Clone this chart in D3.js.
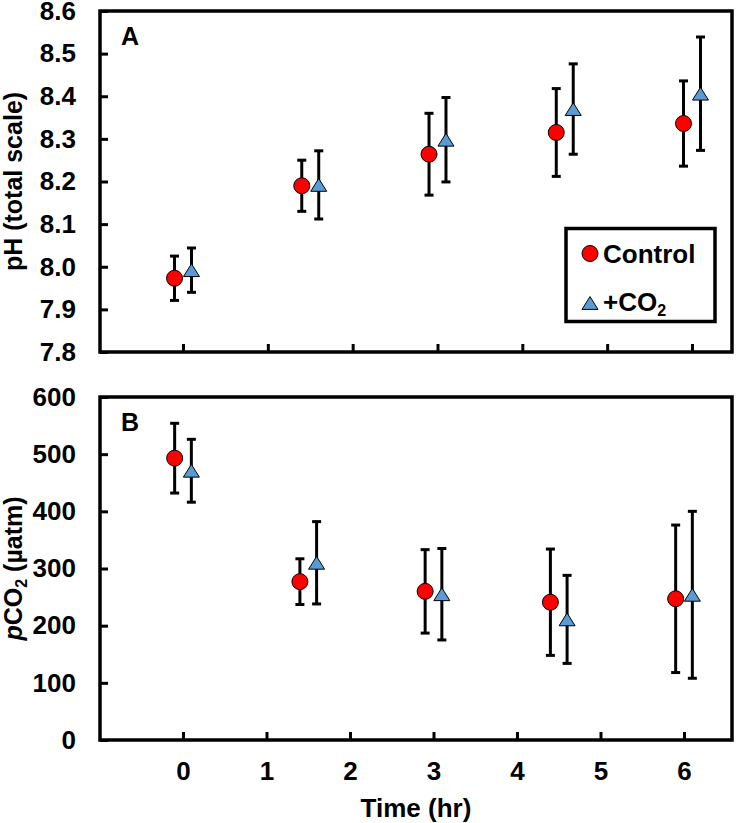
<!DOCTYPE html>
<html>
<head>
<meta charset="utf-8">
<script src="https://cdn.jsdelivr.net/npm/d3@7"></script>
<style>
  html, body { margin: 0; padding: 0; background: #fff; }
  svg { display: block; }
</style>
</head>
<body>
<svg id="chart" width="736" height="823"></svg>
<script>
// ---------------- DATA ----------------
const timesControl = [-0.1, 1.4, 2.9, 4.4, 5.9];
const timesCO2     = [0.1, 1.6, 3.1, 4.6, 6.1];
const xTickValues  = [0, 1, 2, 3, 4, 5, 6];

const phControl    = [7.973, 8.190, 8.264, 8.315, 8.336];
const phControlSD  = [0.052, 0.060, 0.096, 0.103, 0.100];
const phCO2        = [7.992, 8.192, 8.298, 8.370, 8.406];
const phCO2SD      = [0.052, 0.080, 0.099, 0.106, 0.133];

const pco2Control   = [493, 277, 260, 241, 247];
const pco2ControlSD = [61, 40, 73, 93, 129];
const pco2CO2       = [471, 310, 255, 211, 254];
const pco2CO2SD     = [55, 72, 80, 77, 146];

const phTicks   = [7.8, 7.9, 8.0, 8.1, 8.2, 8.3, 8.4, 8.5, 8.6];
const pco2Ticks = [0, 100, 200, 300, 400, 500, 600];

const seriesNames = ["Control", "+CO2"];

// ---------------- STYLE ----------------
const FONT = '"Liberation Sans", Arial, Helvetica, sans-serif';
const RED = "#FF0000";
const BLUE = "#5B9BD5";

const svg = d3.select("#chart")
  .style("font-family", FONT)
  .style("font-weight", "bold");

const triangleType = {
  draw(ctx, size) {
    const s = Math.sqrt(size);
    const h = s * 0.8;
    ctx.moveTo(0, -h / 2);
    ctx.lineTo(s / 2, h / 2);
    ctx.lineTo(-s / 2, h / 2);
    ctx.closePath();
  }
};
const triPath = d3.symbol().type(triangleType).size(256)();

const left = 100, right = 732;

function panel(cfg) {
  const g = svg.append("g");
  const x = d3.scaleLinear().domain([0, 6]).range(cfg.xRange);
  const y = d3.scaleLinear().domain(cfg.yDomain).range([cfg.bottom, cfg.top]);

  const ya = d3.axisLeft(y).tickValues(cfg.yTicks).tickFormat(cfg.yFormat)
    .tickSizeInner(-8).tickSizeOuter(0).tickPadding(24);
  const yg = g.append("g").attr("transform", `translate(${left},0)`).call(ya);
  const xa = d3.axisBottom(x).tickValues(xTickValues)
    .tickFormat(cfg.xLabels ? d3.format("d") : "")
    .tickSizeInner(-8).tickSizeOuter(0).tickPadding(22);
  const xg = g.append("g").attr("transform", `translate(0,${cfg.bottom})`).call(xa);

  [yg, xg].forEach(a => {
    a.attr("font-family", FONT).attr("font-size", 26).attr("font-weight", "bold");
    a.select(".domain").remove();
    a.selectAll(".tick line").attr("stroke", "#000").attr("stroke-width", 3);
    a.selectAll(".tick text").attr("fill", "#000");
  });

  g.append("rect")
    .attr("x", left).attr("y", cfg.top)
    .attr("width", right - left).attr("height", cfg.bottom - cfg.top)
    .attr("fill", "none").attr("stroke", "#000").attr("stroke-width", 3.5);

  g.append("text").attr("x", 121).attr("y", cfg.top + 34)
    .attr("font-size", 25).text(cfg.label);

  const series = [
    { xs: timesControl, ys: cfg.control, sd: cfg.controlSD, kind: "circle" },
    { xs: timesCO2, ys: cfg.co2, sd: cfg.co2SD, kind: "tri" }
  ];

  series.forEach(s => {
    const data = s.ys.map((v, i) => ({ t: s.xs[i], v, sd: s.sd[i] }));
    const eb = g.append("g").attr("stroke", "#000").attr("stroke-width", 3);
    eb.selectAll("line.v").data(data).join("line")
      .attr("x1", d => x(d.t)).attr("x2", d => x(d.t))
      .attr("y1", d => y(d.v + d.sd)).attr("y2", d => y(d.v - d.sd));
    eb.selectAll("line.top").data(data).join("line").attr("class", "top")
      .attr("x1", d => x(d.t) - 4.5).attr("x2", d => x(d.t) + 4.5)
      .attr("y1", d => y(d.v + d.sd)).attr("y2", d => y(d.v + d.sd));
    eb.selectAll("line.bot").data(data).join("line").attr("class", "bot")
      .attr("x1", d => x(d.t) - 4.5).attr("x2", d => x(d.t) + 4.5)
      .attr("y1", d => y(d.v - d.sd)).attr("y2", d => y(d.v - d.sd));
  });
  series.forEach(s => {
    const data = s.ys.map((v, i) => ({ t: s.xs[i], v }));
    if (s.kind === "circle") {
      g.append("g").selectAll("circle").data(data).join("circle")
        .attr("cx", d => x(d.t)).attr("cy", d => y(d.v)).attr("r", 8)
        .attr("fill", RED).attr("stroke", "#000").attr("stroke-width", 1);
    } else {
      g.append("g").selectAll("path").data(data).join("path")
        .attr("d", triPath)
        .attr("transform", d => `translate(${x(d.t)},${y(d.v)})`)
        .attr("fill", BLUE).attr("stroke", "#000").attr("stroke-width", 1);
    }
  });
  return { g, x, y };
}

panel({
  top: 11, bottom: 352, xRange: [183, 692],
  yDomain: [7.8, 8.6], yTicks: phTicks, yFormat: d3.format(".1f"),
  xLabels: false, label: "A",
  control: phControl, controlSD: phControlSD, co2: phCO2, co2SD: phCO2SD
});

panel({
  top: 397, bottom: 740, xRange: [183, 684],
  yDomain: [0, 600], yTicks: pco2Ticks, yFormat: d3.format("d"),
  xLabels: true, label: "B",
  control: pco2Control, controlSD: pco2ControlSD, co2: pco2CO2, co2SD: pco2CO2SD
});

// y titles
svg.append("text")
  .attr("transform", "translate(22,181.5) rotate(-90)")
  .attr("text-anchor", "middle").attr("font-size", 25)
  .text("pH (total scale)");

const tB = svg.append("text")
  .attr("transform", "translate(22,568.5) rotate(-90)")
  .attr("text-anchor", "middle").attr("font-size", 25);
tB.append("tspan").attr("font-style", "italic").text("p");
tB.append("tspan").text("CO");
tB.append("tspan").attr("font-size", 16).attr("dy", 5).text("2");
tB.append("tspan").attr("dy", -5).text(" (\u00B5atm)");

// x title
svg.append("text").attr("x", 416).attr("y", 817)
  .attr("text-anchor", "middle").attr("font-size", 26)
  .text("Time (hr)");

// legend
const lg = svg.append("g");
lg.append("rect").attr("x", 566).attr("y", 228.5).attr("width", 149).attr("height", 93)
  .attr("fill", "#fff").attr("stroke", "#000").attr("stroke-width", 3.5);
lg.append("circle").attr("cx", 590).attr("cy", 253.5).attr("r", 8)
  .attr("fill", RED).attr("stroke", "#000").attr("stroke-width", 1);
lg.append("text").attr("x", 603).attr("y", 263).attr("font-size", 26).text(seriesNames[0]);
lg.append("path").attr("d", triPath).attr("transform", "translate(590,303)")
  .attr("fill", BLUE).attr("stroke", "#000").attr("stroke-width", 1);
const l2 = lg.append("text").attr("x", 603).attr("y", 311).attr("font-size", 26);
l2.append("tspan").text("+CO");
l2.append("tspan").attr("font-size", 16).attr("dy", 5).text("2");
</script>
</body>
</html>
